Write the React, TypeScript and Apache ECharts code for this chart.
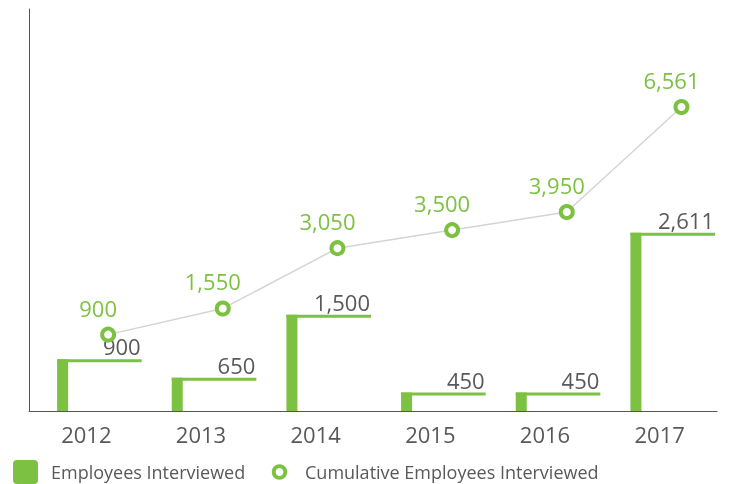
import React, { useEffect, useRef } from "react";
import * as echarts from "echarts";

const years = ["2012", "2013", "2014", "2015", "2016", "2017"];
const employeesInterviewed = [900, 650, 1500, 450, 450, 2611];
const cumulativeInterviewed = [900, 1550, 3050, 3500, 3950, 6561];
const legendNames = ["Employees Interviewed", "Cumulative Employees Interviewed"];

const GREEN = "#7dc142";
const GRAY = "#58595b";
const FONT = '"Open Sans", "Noto Sans", sans-serif';
const LINE_SHIFT = 0.19;

const fmt = (v: number) => v.toLocaleString("en-US");

export default function App() {
  const ref = useRef<HTMLDivElement>(null);
  useEffect(() => {
    if (!ref.current) return;
    const chart = echarts.init(ref.current, undefined, { renderer: "svg" });
    const option: any = {
      animation: false,
      textStyle: { fontFamily: FONT },
      grid: { left: 29, right: 31, top: 9, bottom: 73 },
      xAxis: [
        {
          type: "category",
          data: years,
          axisLine: { show: true, onZero: false, lineStyle: { color: "#555", width: 1 } },
          axisTick: { show: false },
          axisLabel: { fontSize: 22, color: GRAY, margin: 12, fontFamily: FONT },
        },
        { type: "value", min: 0, max: years.length, show: false },
      ],
      yAxis: [
        {
          type: "value",
          min: 200,
          max: 5634,
          axisLine: { show: true, onZero: false, lineStyle: { color: "#555", width: 1 } },
          axisTick: { show: false },
          axisLabel: { show: false },
          splitLine: { show: false },
        },
        { type: "value", min: -1000, max: 9000, show: false, splitLine: { show: false } },
      ],
      series: [
        {
          type: "custom",
          name: legendNames[0],
          xAxisIndex: 0,
          yAxisIndex: 0,
          encode: { x: 0, y: 1 },
          data: employeesInterviewed.map((v, i) => [i, v]),
          renderItem: (params: any, api: any) => {
            const idx = api.value(0);
            const v = api.value(1);
            const top = api.coord([idx, v]);
            const bw = api.size([1, 0])[0];
            const cs = params.coordSys;
            const base = cs.y + cs.height;
            const left = top[0] - bw / 2 + bw * 0.245;
            const right = top[0] + bw / 2 - 2;
            return {
              type: "group",
              children: [
                { type: "rect", shape: { x: left, y: top[1], width: 11, height: base - top[1] }, style: { fill: GREEN } },
                { type: "rect", shape: { x: left, y: top[1], width: right - left, height: 3 }, style: { fill: GREEN } },
                {
                  type: "text",
                  x: right - 1,
                  y: top[1] - 2,
                  style: {
                    text: fmt(v),
                    align: "right",
                    verticalAlign: "bottom",
                    fill: GRAY,
                    fontSize: 22,
                    fontFamily: FONT,
                  },
                },
              ],
            };
          },
        },
        {
          type: "line",
          name: legendNames[1],
          xAxisIndex: 1,
          yAxisIndex: 1,
          data: cumulativeInterviewed.map((v, i) => [i + 0.5 + LINE_SHIFT, v]),
          symbol: "circle",
          symbolSize: 12,
          itemStyle: { color: "#ffffff", borderColor: GREEN, borderWidth: 4 },
          lineStyle: { color: "#d4d4d4", width: 1.5 },
          label: {
            show: true,
            position: "top",
            distance: 8,
            offset: [-10, 0],
            color: GREEN,
            fontSize: 22,
            fontFamily: FONT,
            formatter: (p: any) => fmt(p.value[1]),
          },
          z: 3,
        },
      ],
      graphic: [
        { type: "rect", left: 13, top: 460, shape: { width: 25, height: 24, r: 4 }, style: { fill: GREEN } },
        {
          type: "text",
          left: 51,
          top: 460,
          style: { text: legendNames[0], fill: GRAY, fontSize: 18, fontFamily: FONT, lineHeight: 24, verticalAlign: "top" },
        },
        { type: "circle", shape: { cx: 279.5, cy: 472, r: 5.8 }, style: { fill: "#fff", stroke: GREEN, lineWidth: 3.8 } },
        {
          type: "text",
          left: 305,
          top: 460,
          style: { text: legendNames[1], fill: GRAY, fontSize: 18, fontFamily: FONT, lineHeight: 24, verticalAlign: "top" },
        },
      ],
    };
    chart.setOption(option);
    return () => chart.dispose();
  }, []);
  return <div ref={ref} style={{ position: "fixed", left: 0, top: 0, width: 748, height: 484 }} />;
}
